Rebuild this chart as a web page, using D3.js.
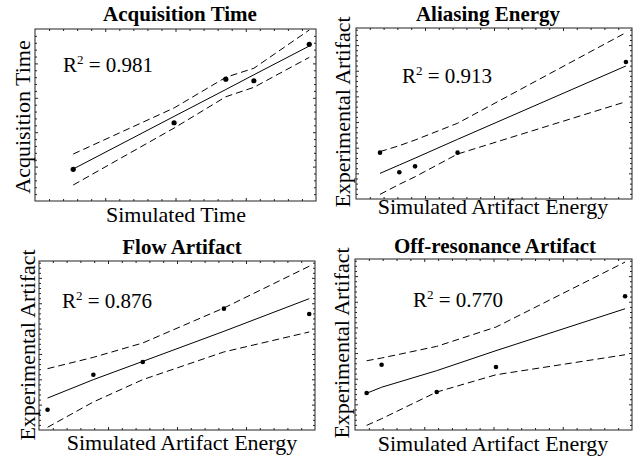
<!DOCTYPE html>
<html><head><meta charset="utf-8">
<script src="https://cdn.jsdelivr.net/npm/d3@7"></script>
<style>body{margin:0;background:#fff;} svg{display:block;}</style>
</head><body>
<script>
// ---- data ----
const titles = ["Acquisition Time", "Aliasing Energy", "Flow Artifact", "Off-resonance Artifact"];
const xLabels = ["Simulated Time", "Simulated Artifact Energy", "Simulated Artifact Energy", "Simulated Artifact Energy"];
const yLabels = ["Acquisition Time", "Experimental Artifact", "Experimental Artifact", "Experimental Artifact"];
const r2Values = ["0.981", "0.913", "0.876", "0.770"];
const simX = [
  [13.6, 49.5, 67.9, 77.9, 97.6],
  [8.7, 15.7, 21.4, 36.8, 97.8],
  [3.1, 19.7, 37.6, 67.0, 97.9],
  [4.2, 9.6, 29.5, 50.9, 97.5]
];
const expY = [
  [18.4, 45.5, 70.8, 69.9, 91.1],
  [27.1, 15.6, 19.1, 27.1, 80.1],
  [12.0, 32.7, 40.2, 71.8, 68.6],
  [21.6, 38.2, 22.2, 36.8, 78.2]
];
const fitY = [
  [18.6, 49.2, 64.8, 73.4, 90.1],
  [15.0, 19.9, 23.9, 34.9, 77.8],
  [18.9, 29.8, 40.6, 58.4, 77.7],
  [21.5, 25.0, 34.7, 46.4, 70.9]
];
const upperY = [
  [27.3, 54.1, 71.9, 77.2, 99.4],
  [27.7, 31.2, 34.5, 44.3, 97.3],
  [36.3, 43.0, 51.5, 72.2, 96.9],
  [40.5, 42.1, 48.9, 60.2, 98.2]
];
const lowerY = [
  [9.3, 42.4, 60.6, 66.1, 83.5],
  [2.7, 8.6, 13.0, 26.3, 56.9],
  [1.6, 16.6, 29.8, 46.2, 58.0],
  [2.7, 6.6, 22.2, 32.3, 44.0]
];
const xDomain = [0, 100];
const yDomain = [0, 100];
const xMinorStep = 5, xMajorStep = 25;
const yMinorSteps = [4, 3, 3, 3];
const yMajorSteps = [20, 15, 15, 15];

// ---- layout ----
const layout = [
  {x: 35, y: 29, w: 281, h: 172, tx: 180, ty: 21, xlx: 176, xly: 222, ylx: 30, yly: 117, rx: 63, ry: 72, r: 2.6},
  {x: 356, y: 28, w: 276, h: 171, tx: 488, ty: 21, xlx: 493, xly: 214, ylx: 350, yly: 112, rx: 402, ry: 83, r: 2.3},
  {x: 39, y: 261, w: 276, h: 169, tx: 182, ty: 254, xlx: 182, xly: 450, ylx: 35, yly: 345, rx: 62, ry: 308, r: 2.3},
  {x: 355, y: 259, w: 277, h: 171, tx: 495, ty: 253, xlx: 493, xly: 451, ylx: 349, yly: 343, rx: 413, ry: 307, r: 2.3}
];
const FONT = "'Liberation Serif', 'Times New Roman', serif";

const svg = d3.select("body").append("svg").attr("width", 640).attr("height", 458);

layout.forEach((L, i) => {
  const x = d3.scaleLinear().domain(xDomain).range([L.x, L.x + L.w]);
  const y = d3.scaleLinear().domain(yDomain).range([L.y + L.h, L.y]);
  const g = svg.append("g");

  // frame ticks (inward, no labels)
  const xMinor = d3.range(xDomain[0] + xMinorStep, xDomain[1], xMinorStep);
  const yMinor = d3.range(yDomain[0] + yMinorSteps[i], yDomain[1], yMinorSteps[i]);
  const isXMajor = v => Math.abs(v / xMajorStep - Math.round(v / xMajorStep)) < 1e-6;
  const isYMajor = v => Math.abs(v / yMajorSteps[i] - Math.round(v / yMajorSteps[i])) < 1e-6;

  const tickStyle = sel => sel.call(s => s.select(".domain").remove())
    .selectAll("line").attr("stroke", "#222").attr("stroke-width", 1);

  g.append("g").attr("transform", `translate(0,${L.y + L.h})`)
    .call(d3.axisBottom(x).tickValues(xMinor).tickFormat("").tickSizeOuter(0)
      .tickSizeInner(-2)).call(tickStyle)
    .selectAll(".tick line").attr("y2", d => isXMajor(d) ? -3 : -2);
  g.append("g").attr("transform", `translate(0,${L.y})`)
    .call(d3.axisTop(x).tickValues(xMinor).tickFormat("").tickSizeOuter(0)
      .tickSizeInner(-2)).call(tickStyle)
    .selectAll(".tick line").attr("y2", d => isXMajor(d) ? 3 : 2);
  g.append("g").attr("transform", `translate(${L.x},0)`)
    .call(d3.axisLeft(y).tickValues(yMinor).tickFormat("").tickSizeOuter(0)
      .tickSizeInner(-2)).call(tickStyle)
    .selectAll(".tick line").attr("x2", d => isYMajor(d) ? 3 : 2);
  g.append("g").attr("transform", `translate(${L.x + L.w},0)`)
    .call(d3.axisRight(y).tickValues(yMinor).tickFormat("").tickSizeOuter(0)
      .tickSizeInner(-2)).call(tickStyle)
    .selectAll(".tick line").attr("x2", d => isYMajor(d) ? -3 : -2);

  g.append("rect").attr("x", L.x).attr("y", L.y).attr("width", L.w).attr("height", L.h)
    .attr("fill", "none").attr("stroke", "#222").attr("stroke-width", 1);

  const idx = d3.range(simX[i].length);
  const line = arr => d3.line().x(j => x(simX[i][j])).y(j => y(arr[j]))(idx);

  g.append("path").attr("d", line(fitY[i])).attr("fill", "none")
    .attr("stroke", "#000").attr("stroke-width", 1);
  g.append("path").attr("d", line(upperY[i])).attr("fill", "none")
    .attr("stroke", "#000").attr("stroke-width", 1).attr("stroke-dasharray", "7,4");
  g.append("path").attr("d", line(lowerY[i])).attr("fill", "none")
    .attr("stroke", "#000").attr("stroke-width", 1).attr("stroke-dasharray", "7,4");

  g.selectAll("circle.pt").data(idx).join("circle").attr("class", "pt")
    .attr("cx", j => x(simX[i][j])).attr("cy", j => y(expY[i][j])).attr("r", L.r)
    .attr("fill", "#000");

  // texts
  g.append("text").attr("x", L.tx).attr("y", L.ty).attr("text-anchor", "middle")
    .attr("font-family", FONT).attr("font-weight", "bold").attr("font-size", 21)
    .text(titles[i]);
  g.append("text").attr("x", L.xlx).attr("y", L.xly).attr("text-anchor", "middle")
    .attr("font-family", FONT).attr("font-size", 22).text(xLabels[i]);
  g.append("text").attr("transform", `translate(${L.ylx},${L.yly}) rotate(-90)`)
    .attr("text-anchor", "middle").attr("font-family", FONT).attr("font-size", 22)
    .text(yLabels[i]);
  const t = g.append("text").attr("x", L.rx).attr("y", L.ry)
    .attr("font-family", FONT).attr("font-size", 21);
  t.append("tspan").text("R");
  t.append("tspan").attr("dy", -8).attr("font-size", 13).text("2");
  t.append("tspan").attr("dy", 8).text(" = " + r2Values[i]);
});
</script>
</body></html>
